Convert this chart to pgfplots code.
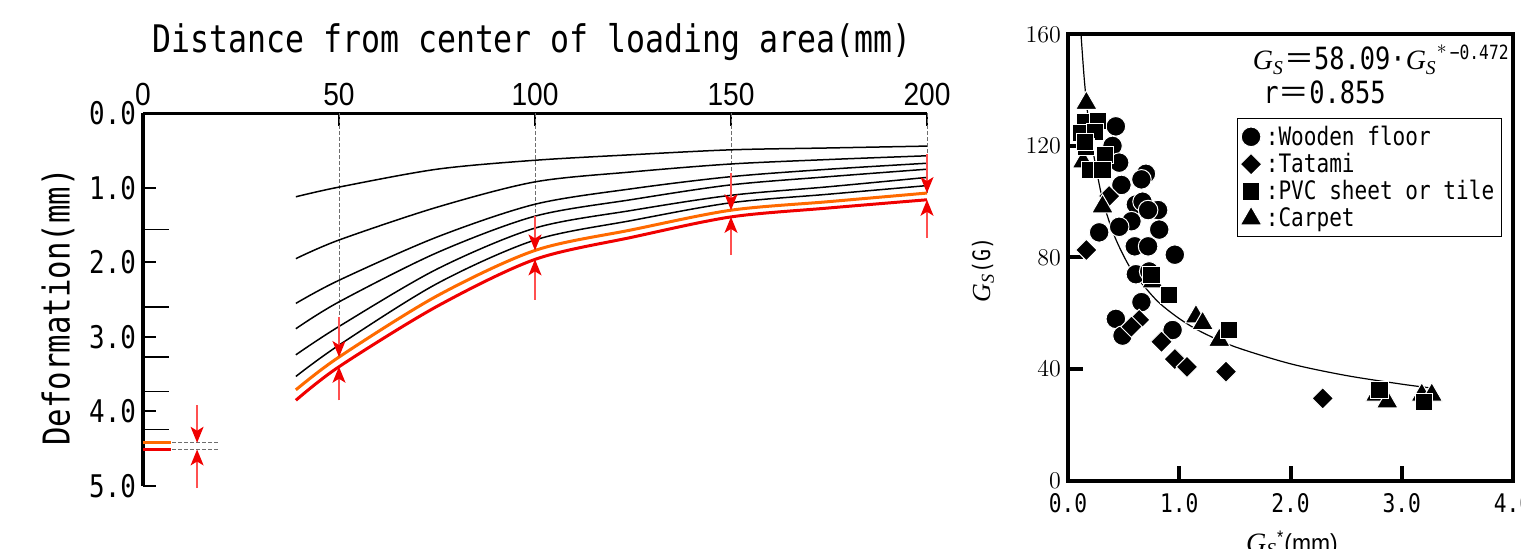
\documentclass[border=0pt]{standalone}
\usepackage{fontspec}
\newfontfamily\gothic{DejaVu Sans Mono}[FakeStretch=0.83]
\newfontfamily\narrow{Liberation Sans}[FakeStretch=0.88]
\newfontfamily\tnr{Liberation Serif}
\newfontfamily\cjk{Noto Sans CJK JP}
\usepackage{pgfplots}
\pgfplotsset{compat=1.18}
\usetikzlibrary{arrows.meta}

\definecolor{cOrange}{HTML}{FF6A00}
\definecolor{cRed}{HTML}{F00000}
\definecolor{cArrow}{HTML}{FF5050}
\definecolor{cDash}{HTML}{6E6E6E}

% deformation curves (mm) against distance (mm)
\pgfplotstableread{
x   c1    c2    c3   c4    c5    c6    co    cr
39  1.12  1.95  2.55 2.89  3.24  3.53  3.71  3.85
50  0.99  1.70  2.24 2.53  2.86  3.11  3.27  3.40
75  0.75  1.26  1.66 1.87  2.09  2.285 2.45  2.59
100 0.63  0.92  1.22 1.38  1.54  1.70  1.84  1.96
125 0.555 0.785 1.01 1.155 1.30  1.435 1.56  1.66
150 0.49  0.68  0.85 0.96  1.10  1.20  1.30  1.39
175 0.465 0.62  0.75 0.85  0.985 1.085 1.185 1.27
200 0.44  0.57  0.67 0.75  0.86  0.97  1.07  1.16
}\curves

\pgfplotstableread{
x    y
0.43 127
0.40 120
0.46 114
0.70 110
0.66 108
0.48 106
0.61 99
0.67 100
0.81 97
0.72 97
0.82 90
0.57 93
0.46 91
0.28 89
0.60 84
0.72 84
0.96 81
0.61 74
0.73 75
0.66 64
0.43 58
0.49 52
0.94 54
}\wood

\pgfplotstableread{
x     y
0.165 82.7
0.37  102
0.64  57.6
0.57  55.2
0.84  49.8
0.96  43.6
1.07  40.8
1.42  39.1
2.29  29.5
}\tatami

\pgfplotstableread{
x     y
0.15  128.6
0.27  129
0.12  124.5
0.24  125
0.165 119.7
0.15  121.5
0.33  116.7
0.195 111.4
0.31  111.4
0.75  73.7
0.91  66.5
1.45  54
2.80  32.5
3.20  28.3
}\pvc

\pgfplotstableread{
x     y
0.165 135.3
0.135 114.3
0.31  98.2
0.76  71.3
1.15  58.8
1.21  56.4
1.36  50.4
2.77  30.7
2.87  28.3
3.18  30.7
3.27  30.7
}\carpet

\pgfplotsset{
  circ/.style={only marks, mark=*, mark size=4.9pt,
               mark options={fill=black, draw=white, line width=0.5pt}},
  diam/.style={only marks, mark=square*, mark size=3.8pt,
               mark options={fill=black, draw=white, line width=0.5pt, rotate=45}},
  sq/.style={only marks, mark=square*, mark size=4.3pt,
             mark options={fill=black, draw=white, line width=0.5pt}},
  tri/.style={only marks, mark=triangle*, mark size=6.2pt,
              mark options={fill=black, draw=white, line width=0.5pt}},
  redarrow/.style={cArrow, line width=0.7pt,
                   -{Stealth[length=8pt, width=6.5pt, inset=2pt, cRed]}},
  gdash/.style={cDash, line width=0.5pt, dash pattern=on 2pt off 1pt},
}

\begin{document}
\begin{tikzpicture}
\path[use as bounding box] (0,0) rectangle (760.5pt,274.5pt);
\clip (0,0) rectangle (760.5pt,274.5pt);

% ============ left: deformation profiles ============
\begin{axis}[
    at={(71.5pt,31.5pt)}, anchor=south west,
    width=392pt, height=186.35pt, scale only axis,
    xmin=0, xmax=200, ymin=0, ymax=5, y dir=reverse,
    axis x line*=top, axis y line*=left,
    axis line style={line width=1.5pt, -},
    xtick={0,50,100,150,200}, xticklabels={0,50,100,150,200},
    ytick={0,1,2,3,4,5}, yticklabels={0.0,1.0,2.0,3.0,4.0,5.0},
    tick align=inside, major tick length=6.5pt,
    tick style={black, line width=1pt},
    extra y ticks={1.56,2.60,3.27,3.73,4.24}, extra y tick labels={},
    extra y tick style={major tick length=13pt, tick style={black, line width=0.8pt}},
    xticklabel style={font=\narrow\fontsize{16pt}{17pt}\selectfont},
    yticklabel style={font=\gothic\fontsize{15.6pt}{16pt}\selectfont},
    clip=false,
]
% vertical guide lines
\addplot[gdash] coordinates {(50,0) (50,3.27)};
\addplot[gdash] coordinates {(100,0) (100,1.84)};
\addplot[gdash] coordinates {(150,0) (150,1.30)};
\addplot[gdash] coordinates {(200,0) (200,1.07)};

\addplot[black, line width=0.75pt, smooth] table[y=c1] {\curves};
\addplot[black, line width=0.75pt, smooth] table[y=c2] {\curves};
\addplot[black, line width=0.75pt, smooth] table[y=c3] {\curves};
\addplot[black, line width=0.75pt, smooth] table[y=c4] {\curves};
\addplot[black, line width=0.75pt, smooth] table[y=c5] {\curves};
\addplot[black, line width=0.75pt, smooth] table[y=c6] {\curves};
\addplot[cOrange, line width=1.5pt, smooth] table[y=co] {\curves};
\addplot[cRed, line width=1.5pt, smooth] table[y=cr] {\curves};

% gap markers
\addplot[redarrow] coordinates {(50,2.73) (50,3.27)};
\addplot[redarrow] coordinates {(50,3.85) (50,3.40)};
\addplot[redarrow] coordinates {(100,1.38) (100,1.84)};
\addplot[redarrow] coordinates {(100,2.50) (100,1.96)};
\addplot[redarrow] coordinates {(150,0.80) (150,1.30)};
\addplot[redarrow] coordinates {(150,1.90) (150,1.39)};
\addplot[redarrow] coordinates {(200,0.55) (200,1.07)};
\addplot[redarrow] coordinates {(200,1.67) (200,1.16)};

% values at the centre
\addplot[cOrange, line width=1.6pt] coordinates {(0,4.42) (7.2,4.42)};
\addplot[cRed, line width=1.6pt] coordinates {(0,4.51) (7.2,4.51)};
\addplot[gdash] coordinates {(7.4,4.42) (19.6,4.42)};
\addplot[gdash] coordinates {(7.4,4.51) (19.6,4.51)};
\addplot[redarrow] coordinates {(13.8,3.92) (13.8,4.42)};
\addplot[redarrow] coordinates {(13.8,5.03) (13.8,4.51)};
\end{axis}

% ============ right: Gs against Gs* ============
\begin{axis}[
    at={(534pt,34.15pt)}, anchor=south west,
    width=222.5pt, height=223.2pt, scale only axis,
    xmin=0, xmax=4, ymin=0, ymax=160,
    axis line style={line width=2pt},
    xtick={0,1,2,3,4}, xticklabels={0.0,1.0,2.0,3.0,4.0},
    ytick={0,40,80,120,160},
    xtick pos=bottom, ytick pos=left,
    tick align=inside, major tick length=7.5pt,
    tick style={black, line width=2pt},
    xticklabel style={font=\gothic\fontsize{12.8pt}{13pt}\selectfont, yshift=-3pt},
    yticklabel style={font=\narrow\fontsize{12pt}{13pt}\selectfont},
    legend style={at={(0.975,0.8125)}, anchor=north east, draw=black,
                  line width=0.6pt, inner sep=1.5pt, row sep=-1.5pt,
                  font=\gothic\fontsize{12.7pt}{13pt}\selectfont},
    legend cell align=left,
    legend image code/.code={\draw[#1] plot coordinates {(0.2cm,0cm)};},
    clip=false,
]
\addplot[black, line width=0.6pt, smooth, forget plot] coordinates {
  (0.117,160) (0.15,142.2) (0.2,124.2) (0.3,102.6) (0.4,89.5) (0.5,80.6)
  (0.6,73.9) (0.8,64.5) (1.0,58.1) (1.2,53.3) (1.5,48.0) (2.0,41.9)
  (2.5,37.7) (3.0,34.6) (3.27,33.2)};
\addplot[circ] table {\wood};
\addlegendentry{:Wooden floor}
\addplot[diam] table {\tatami};
\addlegendentry{:Tatami}
\addplot[tri, forget plot] table {\carpet};
\addplot[sq] table {\pvc};
\addlegendentry{:PVC sheet or tile}
\addlegendimage{tri}
\addlegendentry{:Carpet}
\end{axis}

% ============ titles and labels ============
\begin{scope}[x=0.5pt, y=-0.5pt, shift={(0,274.5pt)}]
\node at (532,42) {\gothic\fontsize{19pt}{20pt}\selectfont Distance from center of loading area(mm)};
\node[rotate=90] at (58,307) {\gothic\fontsize{18.5pt}{19pt}\selectfont Deformation(mm)};
\node[anchor=base east, inner sep=0pt] at (1510,70)
  {{\tnr\itshape\fontsize{14pt}{15pt}\selectfont G\textsubscript{S}}{\cjk\fontsize{15pt}{16pt}\selectfont ＝}{\gothic\fontsize{15.3pt}{16pt}\selectfont 58.09·}{\tnr\itshape\fontsize{14pt}{15pt}\selectfont G\textsubscript{S}}{\fontsize{14pt}{15pt}\selectfont\textsuperscript{*\,\gothic −0.472}}};
\node[anchor=base west, inner sep=0pt] at (1263,104)
  {\gothic\fontsize{15.3pt}{16pt}\selectfont r{\cjk ＝}0.855};
\node[rotate=90] at (983,270)
  {{\tnr\itshape\fontsize{13pt}{14pt}\selectfont G\textsubscript{S}}{\gothic\fontsize{12pt}{13pt}\selectfont (G)}};
\node[anchor=north] at (1292,524)
  {{\tnr\itshape\fontsize{14pt}{15pt}\selectfont G\textsubscript{S}}{\narrow\fontsize{13pt}{14pt}\selectfont\textsuperscript{*}(mm)}};
\end{scope}
\end{tikzpicture}
\end{document}
